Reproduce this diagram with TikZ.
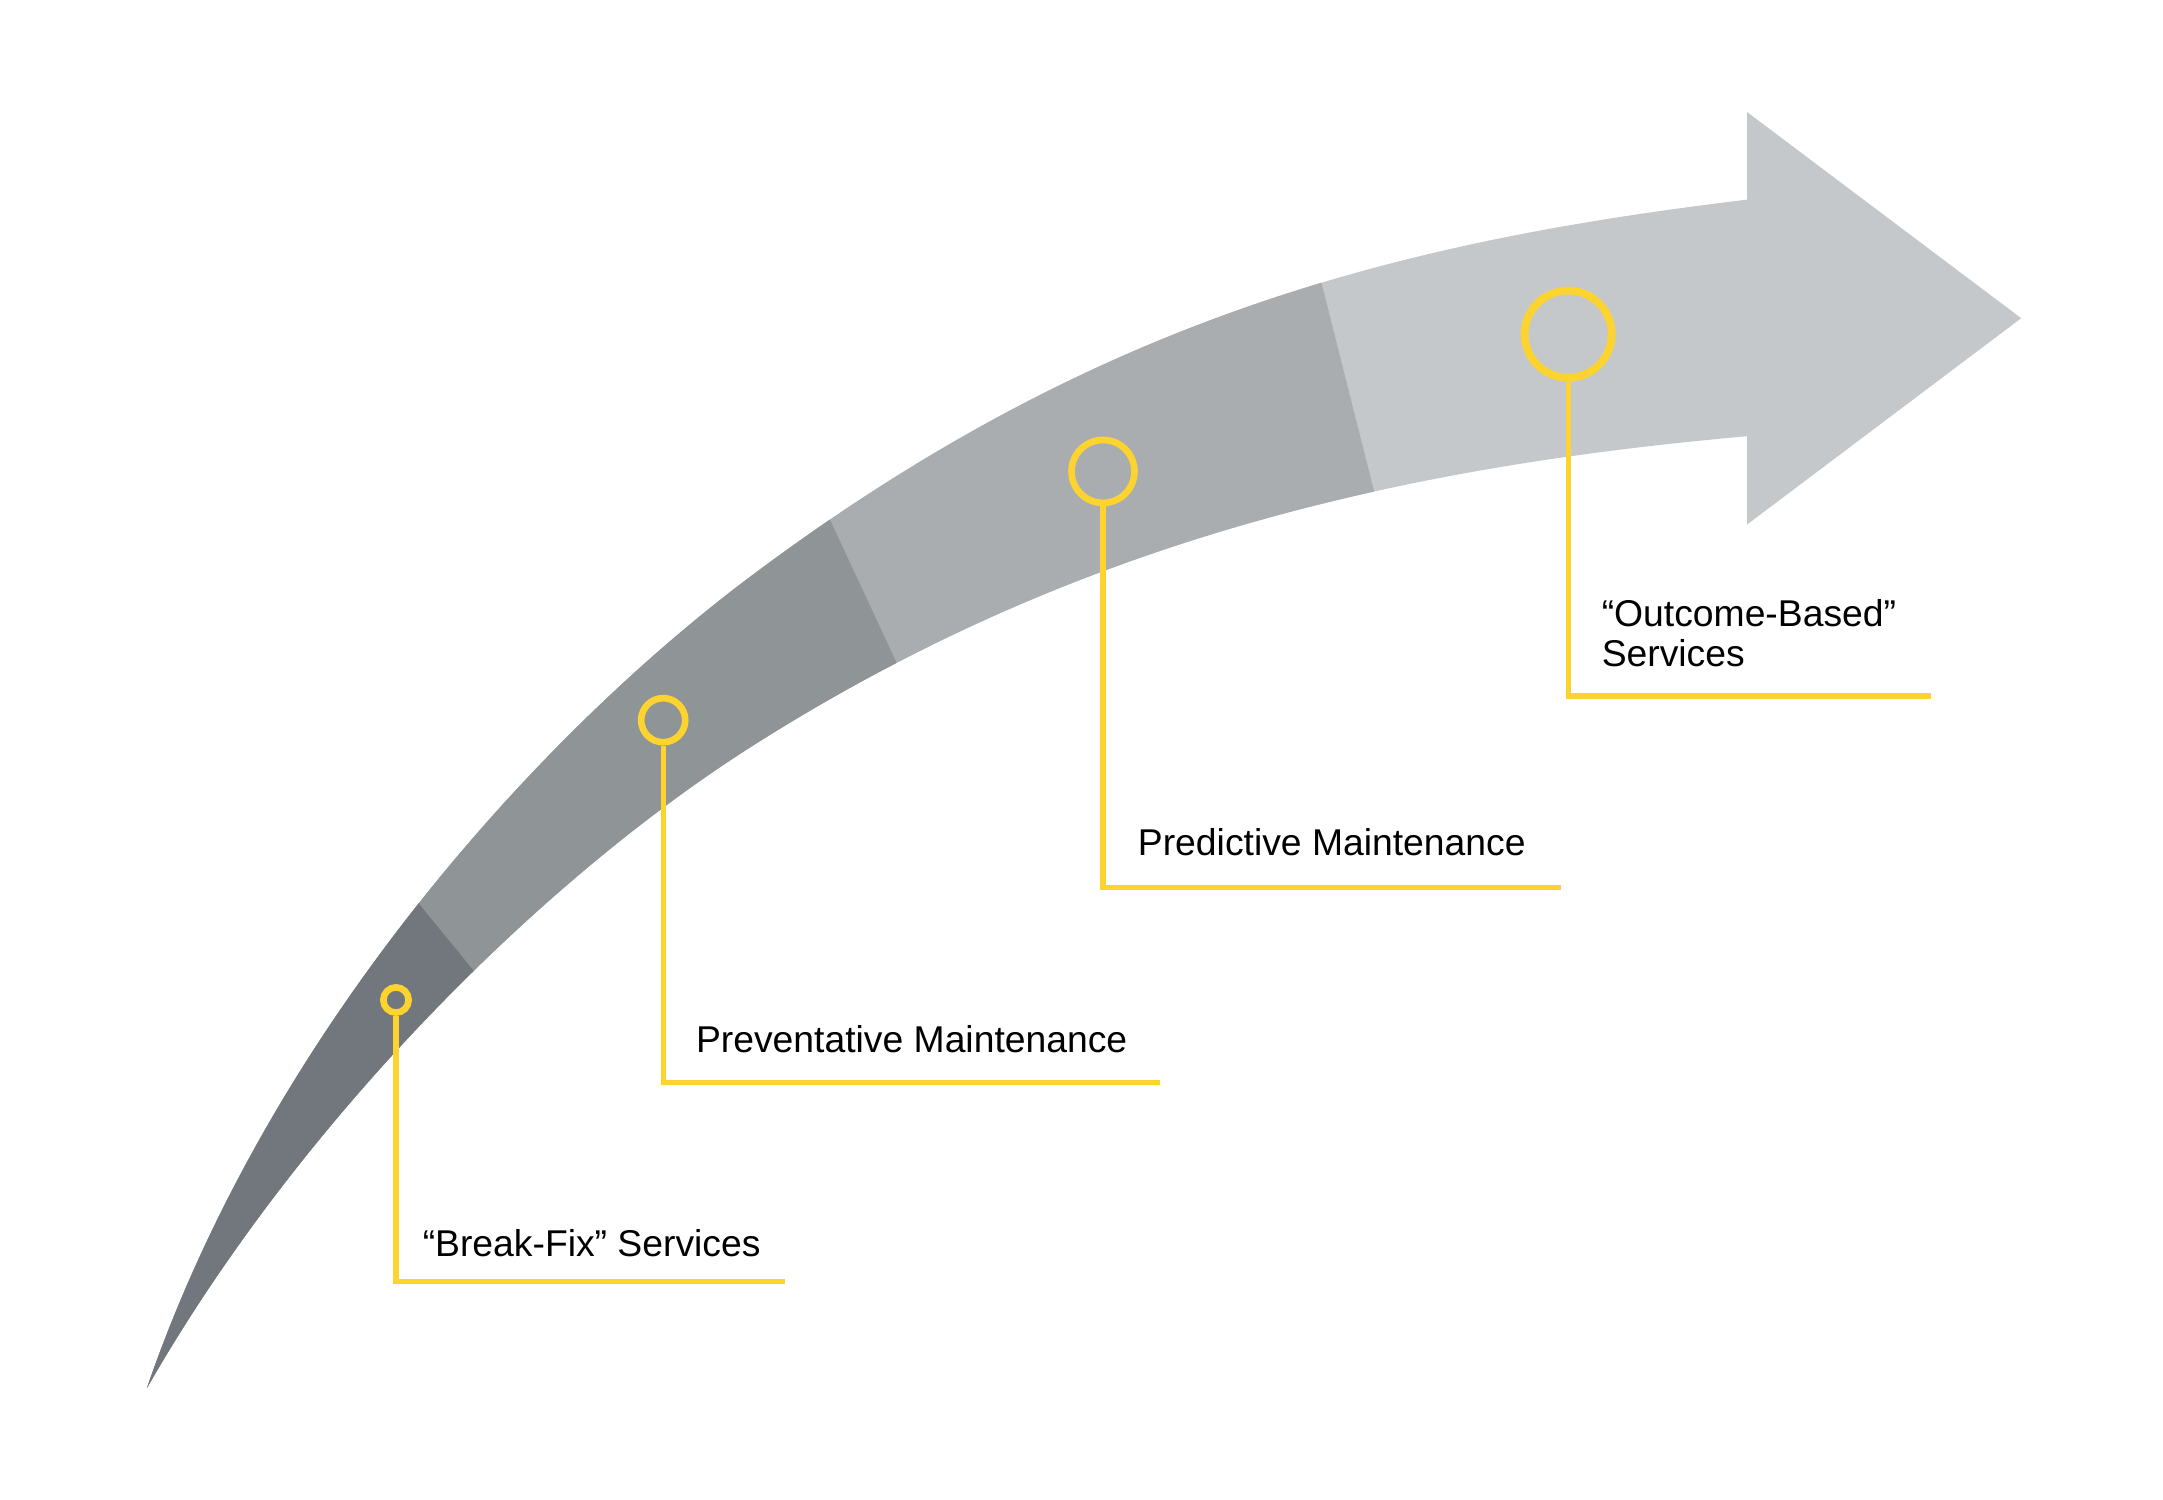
\documentclass[tikz,border=0pt]{standalone}
\usepackage{fontspec}
\setmainfont{Liberation Sans}
\definecolor{seg1}{HTML}{71777C}
\definecolor{seg2}{HTML}{8F9497}
\definecolor{seg3}{HTML}{AAADB0}
\definecolor{seg4}{HTML}{C5C8CA}
\definecolor{gold}{HTML}{FDD330}
\begin{document}
\begin{tikzpicture}[x=1pt,y=-1pt,
  ring/.style={circle,draw=gold,line width=4.8pt,inner sep=0pt,fill=none},
  lead/.style={draw=gold,line width=3.7pt},
  lbl/.style={anchor=base west,inner sep=0pt,font=\fontsize{26.9}{29.5}\selectfont,text=black}]
\useasboundingbox (0,0) rectangle (1560,1081.8);
\fill[white] (0,0) rectangle (1560,1081.8);
% curved arrow, four shaded stages
\begin{scope}
\clip (106,1001) .. controls (196,740) and (391,528.5) .. (541,416)
  .. controls (791,228.5) and (1010,174) .. (1260,144)
  -- (1260,80.8) -- (1457.7,229.5) -- (1260,378.3) -- (1260,314.6)
  .. controls (1020,336) and (781,386) .. (541,539)
  .. controls (391,634.6) and (216,808.5) .. (106,1001) -- cycle;
\fill[seg4] (0,0) rectangle (1560,1081.8);
\fill[seg3] (940.8,155.4) -- (1002.6,400.3) -- (1002.6,1100) -- (0,1100) -- (0,155.4) -- cycle;
\fill[seg2] (573.75,321.4) -- (670.8,530) -- (670.8,1100) -- (0,1100) -- (0,321.4) -- cycle;
\fill[seg1] (231,564.6) -- (413,787.6) -- (413,1100) -- (0,1100) -- (0,564.6) -- cycle;
\end{scope}
% markers
\node[ring,minimum size=18.2pt] (c1) at (285.6,721.2) {};
\node[ring,minimum size=31.8pt] (c2) at (478.3,519.4) {};
\node[ring,minimum size=45.4pt] (c3) at (795.5,340) {};
\node[ring,minimum size=62.8pt,line width=5.6pt] (c4) at (1131,241) {};
% leader ends
\coordinate (e1) at (565.8,924);
\coordinate (e2) at (836.3,780.7);
\coordinate (e3) at (1126,640);
\coordinate (e4) at (1393,502);
\draw[lead] (c1.south) |- (e1);
\draw[lead] (c2.south) |- (e2);
\draw[lead] (c3.south) |- (e3);
\draw[lead] (c4.south) |- (e4);
% labels
\node[lbl] (t1) at (304.7,906.3) {“Break-Fix” Services};
\node[lbl] (t2) at (501.8,759) {Preventative Maintenance};
\node[lbl] (t3) at (820.5,616.8) {Predictive Maintenance};
\node[lbl,align=left] (t4) at (1155,481) {“Outcome-Based”\\Services};
\end{tikzpicture}
\end{document}
